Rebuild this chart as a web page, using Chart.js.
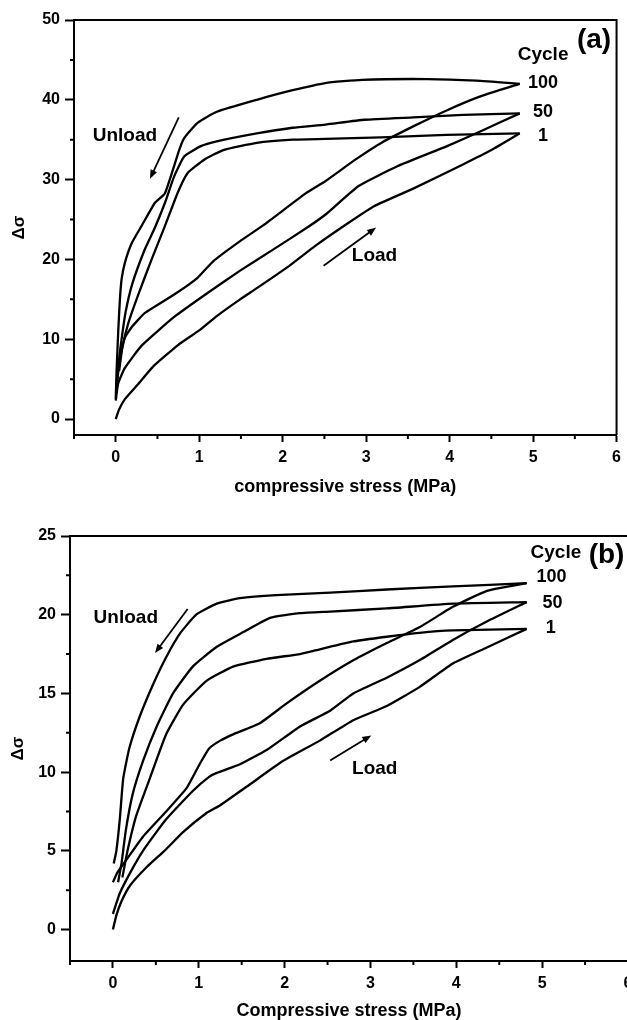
<!DOCTYPE html>
<html>
<head>
<meta charset="utf-8">
<script src="https://cdn.jsdelivr.net/npm/chart.js@4.4.1/dist/chart.umd.min.js"></script>
<style>
html,body{margin:0;padding:0;background:#fff;width:627px;height:1020px;overflow:hidden;}
#wrap{position:relative;width:627px;height:1020px;overflow:hidden;}
#ca{position:absolute;left:0;top:0;}
#cb{position:absolute;left:0;top:500px;}
</style>
</head>
<body>
<div id="wrap">
<canvas id="ca" width="627" height="500"></canvas>
<canvas id="cb" width="640" height="520"></canvas>
</div>
<script>
// cycle numbers, tick values
const cycles = ["1", "50", "100"];
const xTicks = [0, 1, 2, 3, 4, 5, 6];
const xMinor = [-0.5, 0.5, 1.5, 2.5, 3.5, 4.5, 5.5];
const yTicksA = [0, 10, 20, 30, 40, 50];
const yMinorA = [5, 15, 25, 35, 45];
const yTicksB = [0, 5, 10, 15, 20, 25];
const yMinorB = [2.5, 7.5, 12.5, 17.5, 22.5];

// panel (a): [compressive stress (MPa), delta sigma]
const aLoad1 = [[0,0],[0.04,1.2],[0.11,2.5],[0.27,4.4],[0.45,6.6],[0.75,9.3],[1.0,11.1],[1.21,12.9],[1.49,15.0],[1.69,16.4],[2.08,19.2],[2.39,21.7],[2.79,24.6],[3.10,26.7],[3.57,28.9],[4.16,31.9],[4.50,33.7],[4.84,35.8]];
const aUnload1 = [[4.84,35.8],[3.96,35.6],[3.18,35.3],[2.51,35.1],[2.12,35.0],[1.69,34.6],[1.29,33.7],[1.06,32.5],[0.86,30.8],[0.74,28.3],[0.59,24.2],[0.43,20.0],[0.27,15.6],[0.15,12.0],[0.08,9.0],[0.04,6.0]];
const aLoad50 = [[0,2.3],[0.03,4.5],[0.11,6.4],[0.31,9.2],[0.70,12.8],[1.10,15.8],[1.49,18.6],[1.88,21.2],[2.28,23.9],[2.51,25.6],[2.91,29.2],[3.38,31.7],[3.97,34.2],[4.36,36.0],[4.84,38.3]];
const aUnload50 = [[4.84,38.3],[4.16,38.1],[3.57,37.8],[2.98,37.5],[2.51,36.9],[2.12,36.5],[1.69,35.8],[1.21,34.8],[1.02,34.2],[0.82,32.9],[0.70,30.4],[0.59,27.1],[0.47,24.0],[0.35,21.3],[0.20,17.0],[0.12,13.5],[0.07,10.0],[0.03,6.5],[0.01,3.5]];
const aLoad100 = [[0.02,5.0],[0.05,7.5],[0.11,10.2],[0.19,11.5],[0.35,13.3],[0.70,15.6],[0.98,17.7],[1.17,19.8],[1.49,22.3],[1.77,24.3],[2.28,28.3],[2.51,29.8],[2.87,32.5],[3.18,34.6],[3.57,36.7],[3.97,38.7],[4.36,40.4],[4.84,42.0]];
const aUnload100 = [[4.84,42.0],[4.32,42.4],[3.73,42.6],[2.95,42.5],[2.51,42.1],[2.12,41.2],[1.69,40.0],[1.21,38.5],[0.98,37.1],[0.82,35.2],[0.76,33.7],[0.59,28.3],[0.47,27.1],[0.31,24.2],[0.19,22.0],[0.11,19.6],[0.07,17.5],[0.05,15.0],[0.03,11.0],[0.01,6.0],[0,2.5]];

// panel (b)
const bLoad1 = [[0,0],[0.04,0.9],[0.1,1.8],[0.2,2.8],[0.4,4.0],[0.6,5.0],[0.82,6.2],[1.09,7.4],[1.25,7.9],[1.59,9.2],[1.98,10.7],[2.41,12.0],[2.80,13.3],[3.19,14.2],[3.57,15.4],[3.96,16.9],[4.35,17.9],[4.82,19.1]];
const bUnload1 = [[4.82,19.1],[3.96,19.0],[3.57,18.85],[3.19,18.6],[2.80,18.3],[2.41,17.8],[2.18,17.5],[1.79,17.2],[1.40,16.7],[1.09,15.8],[0.82,14.3],[0.62,12.4],[0.43,9.6],[0.27,7.2],[0.17,5.0],[0.11,3.3]];
const bLoad50 = [[0,1.0],[0.08,2.3],[0.2,3.6],[0.35,5.0],[0.62,7.0],[0.93,8.8],[1.12,9.7],[1.21,9.95],[1.48,10.5],[1.79,11.4],[2.18,12.9],[2.53,13.9],[2.80,15.0],[3.19,16.0],[3.57,17.1],[3.96,18.4],[4.35,19.55],[4.82,20.8]];
const bUnload50 = [[4.82,20.8],[3.96,20.7],[3.19,20.4],[2.53,20.2],[2.18,20.1],[1.83,19.8],[1.52,18.9],[1.21,17.96],[0.93,16.7],[0.70,15.0],[0.51,12.9],[0.35,10.7],[0.23,8.6],[0.15,6.3],[0.10,4.2],[0.06,3.0]];
const bLoad100 = [[0,3.0],[0.05,3.6],[0.14,4.3],[0.35,5.9],[0.62,7.5],[0.86,9.0],[1.01,10.5],[1.12,11.5],[1.25,12.0],[1.40,12.4],[1.71,13.1],[2.02,14.35],[2.41,15.8],[2.80,17.1],[3.19,18.2],[3.57,19.2],[3.96,20.5],[4.35,21.5],[4.82,22.0]];
const bUnload100 = [[4.82,22.0],[3.96,21.8],[3.19,21.6],[2.53,21.4],[1.90,21.25],[1.48,21.05],[1.21,20.7],[0.97,20.0],[0.78,18.8],[0.62,17.3],[0.47,15.6],[0.31,13.5],[0.19,11.5],[0.12,9.6],[0.08,7.0],[0.04,5.0],[0.01,4.2]];

const FONT = "'Liberation Sans', Arial, sans-serif";
Chart.defaults.font.family = FONT;
Chart.defaults.color = "#000";

// box, minor ticks
const frame = {
  id: "frame",
  afterDraw(chart, args, o) {
    const {ctx, chartArea: a, scales: {x, y}} = chart;
    ctx.save();
    ctx.strokeStyle = "#000";
    ctx.lineWidth = 2;
    ctx.beginPath();
    ctx.moveTo(a.left, a.top);
    ctx.lineTo(a.right, a.top);
    ctx.lineTo(a.right, a.bottom);
    o.xMinor.forEach(v => {
      const px = x.getPixelForValue(v);
      ctx.moveTo(px, a.bottom);
      ctx.lineTo(px, a.bottom + 4);
    });
    o.yMinor.forEach(v => {
      const py = y.getPixelForValue(v);
      ctx.moveTo(a.left, py);
      ctx.lineTo(a.left - 4, py);
    });
    ctx.stroke();
    ctx.restore();
  }
};

// text labels and arrows
const notes = {
  id: "notes",
  afterDraw(chart, args, o) {
    const {ctx, scales: {x, y}} = chart;
    ctx.save();
    ctx.fillStyle = "#000";
    ctx.strokeStyle = "#000";
    ctx.textAlign = "center";
    ctx.textBaseline = "middle";
    o.texts.forEach(t => {
      ctx.font = "bold " + t.s + "px " + FONT;
      ctx.fillText(t.t, x.getPixelForValue(t.x), y.getPixelForValue(t.y));
    });
    o.arrows.forEach(ar => {
      const x1 = x.getPixelForValue(ar[0][0]), y1 = y.getPixelForValue(ar[0][1]);
      const x2 = x.getPixelForValue(ar[1][0]), y2 = y.getPixelForValue(ar[1][1]);
      const ang = Math.atan2(y2 - y1, x2 - x1);
      ctx.lineWidth = 1.8;
      ctx.beginPath();
      ctx.moveTo(x1, y1);
      ctx.lineTo(x2 - 6 * Math.cos(ang), y2 - 6 * Math.sin(ang));
      ctx.stroke();
      ctx.beginPath();
      ctx.moveTo(x2, y2);
      ctx.lineTo(x2 - 9 * Math.cos(ang) + 3.5 * Math.sin(ang), y2 - 9 * Math.sin(ang) - 3.5 * Math.cos(ang));
      ctx.lineTo(x2 - 9 * Math.cos(ang) - 3.5 * Math.sin(ang), y2 - 9 * Math.sin(ang) + 3.5 * Math.cos(ang));
      ctx.closePath();
      ctx.fill();
    });
    ctx.restore();
  }
};

function curve(pts, label) {
  return {
    label: label,
    data: pts.map(p => ({x: p[0], y: p[1]})),
    showLine: true,
    borderColor: "#000",
    borderWidth: 2.3,
    pointRadius: 0,
    tension: 0.15,
    fill: false
  };
}

function panel(id, o) {
  const tickFont = {size: 16, weight: "bold"};
  return new Chart(document.getElementById(id), {
    type: "scatter",
    data: {
      datasets: [
        curve(o.loads[0], cycles[0]), curve(o.unloads[0], cycles[0]),
        curve(o.loads[1], cycles[1]), curve(o.unloads[1], cycles[1]),
        curve(o.loads[2], cycles[2]), curve(o.unloads[2], cycles[2])
      ]
    },
    options: {
      responsive: false,
      animation: false,
      devicePixelRatio: 1,
      layout: {padding: {top: o.padTop, right: o.padRight, left: 0, bottom: 0}},
      plugins: {
        legend: {display: false},
        tooltip: {enabled: false},
        frame: {xMinor: xMinor, yMinor: o.yMinor},
        notes: o.notes
      },
      scales: {
        x: {
          type: "linear",
          min: -0.5,
          max: 6,
          afterBuildTicks: s => { s.ticks = xTicks.map(v => ({value: v})); },
          afterFit: s => { s.height = o.xAxisH; },
          ticks: {font: tickFont, color: "#000", padding: 6, autoSkip: false, maxRotation: 0},
          grid: {drawOnChartArea: false, tickLength: 7, tickWidth: 2, tickColor: "#000"},
          border: {color: "#000", width: 2},
          title: {display: true, text: o.xTitle, color: "#000",
                  font: {size: 18, weight: "bold", lineHeight: 1}, padding: {top: 0, bottom: o.xTitlePad}}
        },
        y: {
          type: "linear",
          min: o.yMin,
          max: o.yMax,
          afterBuildTicks: s => { s.ticks = o.yTicks.map(v => ({value: v})); },
          afterFit: s => { s.width = o.yAxisW; },
          ticks: {font: tickFont, color: "#000", padding: 5, autoSkip: false},
          grid: {drawOnChartArea: false, tickLength: 9, tickWidth: 2, tickColor: "#000"},
          border: {color: "#000", width: 2},
          title: {display: true, text: "Δσ", color: "#000",
                  font: {size: 17, weight: "bold", lineHeight: 1}, padding: {top: o.yTitlePad, bottom: 0}}
        }
      }
    },
    plugins: [frame, notes]
  });
}

panel("ca", {
  loads: [aLoad1, aLoad50, aLoad100],
  unloads: [aUnload1, aUnload50, aUnload100],
  yMin: -2, yMax: 50, yTicks: yTicksA, yMinor: yMinorA,
  padTop: 20, padRight: 2, yAxisW: 74, xAxisH: 65,
  xTitle: "compressive stress (MPa)", xTitlePad: 4, yTitlePad: 11,
  notes: {
    texts: [
      {t: "Cycle", x: 5.12, y: 45.6, s: 19},
      {t: "(a)", x: 5.73, y: 47.4, s: 28},
      {t: "100", x: 5.12, y: 42.1, s: 18},
      {t: "50", x: 5.12, y: 38.5, s: 18},
      {t: "1", x: 5.12, y: 35.4, s: 18},
      {t: "Unload", x: 0.11, y: 35.5, s: 19},
      {t: "Load", x: 3.10, y: 20.4, s: 19}
    ],
    arrows: [[[0.755, 37.8], [0.41, 30.1]], [[2.49, 19.2], [3.12, 24.0]]]
  }
});

panel("cb", {
  loads: [bLoad1, bLoad50, bLoad100],
  unloads: [bUnload1, bUnload50, bUnload100],
  yMin: -2, yMax: 25, yTicks: yTicksB, yMinor: yMinorB,
  padTop: 36, padRight: 12, yAxisW: 70, xAxisH: 59,
  xTitle: "Compressive stress (MPa)", xTitlePad: 0, yTitlePad: 10,
  notes: {
    texts: [
      {t: "Cycle", x: 5.16, y: 23.95, s: 19},
      {t: "(b)", x: 5.75, y: 23.8, s: 28},
      {t: "100", x: 5.11, y: 22.4, s: 18},
      {t: "50", x: 5.12, y: 20.75, s: 18},
      {t: "1", x: 5.10, y: 19.15, s: 18},
      {t: "Unload", x: 0.15, y: 19.8, s: 19},
      {t: "Load", x: 3.05, y: 10.2, s: 19}
    ],
    arrows: [[[0.87, 20.36], [0.49, 17.56]], [[2.53, 10.74], [3.01, 12.33]]]
  }
});
</script>
</body>
</html>
